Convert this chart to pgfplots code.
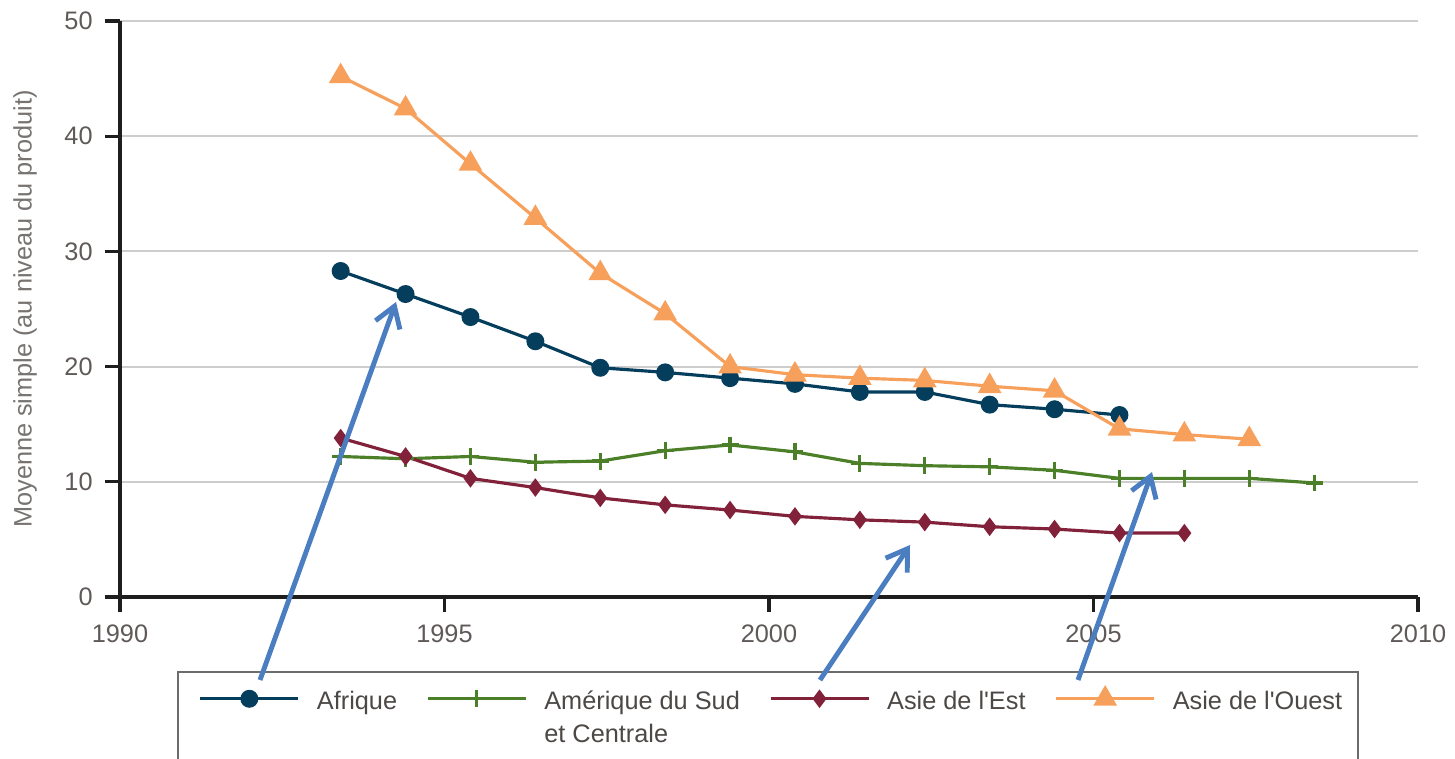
\documentclass[border=0pt]{standalone}
\usepackage{fontspec}
\setmainfont{Liberation Sans}
\usepackage{pgfplots}
\pgfplotsset{compat=1.18}
\usetikzlibrary{arrows.meta}
\definecolor{cafr}{RGB}{4,62,92}
\definecolor{camer}{RGB}{76,128,40}
\definecolor{cest}{RGB}{130,34,58}
\definecolor{couest}{RGB}{247,160,92}
\definecolor{carrow}{RGB}{74,126,192}
\definecolor{axisc}{RGB}{30,30,30}
\definecolor{gridc}{RGB}{205,205,205}
\definecolor{txtc}{RGB}{95,90,88}
\newcommand\f{\fontsize{7.2}{9.4}\selectfont}
\begin{document}
\begin{tikzpicture}
\useasboundingbox (0,0) rectangle (14.55,7.58);
\begin{axis}[
  at={(1.20cm,1.61cm)}, anchor=south west,
  scale only axis, width=12.98cm, height=5.76cm,
  xmin=1990, xmax=2010, ymin=0, ymax=50,
  axis x line=bottom, axis y line=left,
  axis line style={-, line width=0.9pt, color=axisc},
  tick align=outside, major tick length=0.15cm,
  tick style={line width=0.9pt, color=axisc},
  xtick={1990,1995,2000,2005,2010}, ytick={0,10,20,30,40,50},
  ymajorgrids, grid style={line width=0.6pt, color=gridc},
  /pgf/number format/assume math mode=true,
  xticklabel style={/pgf/number format/1000 sep=, font=\f, text=txtc},
  yticklabel style={font=\f, text=txtc},
  ylabel={Moyenne simple (au niveau du produit)},
  ylabel style={font=\f, text=txtc!85, at={(axis description cs:-0.0732,0.5)}, anchor=center},
  clip=false,
  legend columns=4,
  legend style={at={(0.0509,-0.1059)}, anchor=north west, draw=none,
    fill=none, font=\f, text=txtc!80!black, inner xsep=0.12cm, inner ysep=0.14cm,
    nodes={text height=1.6ex, text depth=0.45ex},
    /tikz/every odd column/.append style={column sep=0.1cm},
    /tikz/every even column/.append style={column sep=0.22cm}},
  legend cell align=left,
  legend image code/.code={\draw[mark repeat=2,mark phase=2,#1] plot coordinates {(0cm,0cm) (0.49cm,0cm) (0.98cm,0cm)};},
]
\addplot[cafr, line width=0.9pt, mark=*, mark size=2.1pt] coordinates {
(1993.4,28.3) (1994.4,26.3) (1995.4,24.3) (1996.4,22.2) (1997.4,19.9) (1998.4,19.5)
(1999.4,19.0) (2000.4,18.5) (2001.4,17.8) (2002.4,17.8) (2003.4,16.7) (2004.4,16.3) (2005.4,15.8)};
\addlegendentry{Afrique}
\addplot[camer, line width=0.9pt, mark=+, mark size=2.4pt, mark options={line width=0.9pt}] coordinates {
(1993.4,12.2) (1994.4,12.0) (1995.4,12.2) (1996.4,11.7) (1997.4,11.8) (1998.4,12.7)
(1999.4,13.2) (2000.4,12.6) (2001.4,11.6) (2002.4,11.4) (2003.4,11.3) (2004.4,11.0)
(2005.4,10.3) (2006.4,10.3) (2007.4,10.3) (2008.4,9.9)};
\addlegendentry{\begin{tabular}[t]{@{}l@{}}Amérique du Sud\\et Centrale\end{tabular}}
\addplot[cest, line width=0.9pt, mark=diamond*, mark size=1.9pt] coordinates {
(1993.4,13.8) (1994.4,12.2) (1995.4,10.3) (1996.4,9.5) (1997.4,8.6) (1998.4,8.0)
(1999.4,7.55) (2000.4,7.0) (2001.4,6.7) (2002.4,6.5) (2003.4,6.1) (2004.4,5.9)
(2005.4,5.55) (2006.4,5.55)};
\addlegendentry{Asie de l\textquotesingle Est}
\addplot[couest, line width=0.9pt, mark=triangle*, mark size=3pt] coordinates {
(1993.4,45.2) (1994.4,42.4) (1995.4,37.6) (1996.4,32.9) (1997.4,28.1) (1998.4,24.6)
(1999.4,20.0) (2000.4,19.3) (2001.4,19.0) (2002.4,18.8) (2003.4,18.3) (2004.4,17.9)
(2005.4,14.6) (2006.4,14.1) (2007.4,13.7)};
\addlegendentry{Asie de l\textquotesingle Ouest}
\end{axis}
\draw[gray!85!black, line width=0.6pt] (1.78,-0.2) -- (1.78,0.86) -- (13.58,0.86) -- (13.58,-0.2);
\draw[carrow, line width=1.4pt, -{Straight Barb[length=0.2cm, width=0.26cm]}] (2.60,0.78) -- (3.96,4.56);
\draw[carrow, line width=1.4pt, -{Straight Barb[length=0.2cm, width=0.26cm]}] (8.20,0.78) -- (9.10,2.13);
\draw[carrow, line width=1.4pt, -{Straight Barb[length=0.2cm, width=0.26cm]}] (10.78,0.78) -- (11.52,2.86);
\end{tikzpicture}
\end{document}
